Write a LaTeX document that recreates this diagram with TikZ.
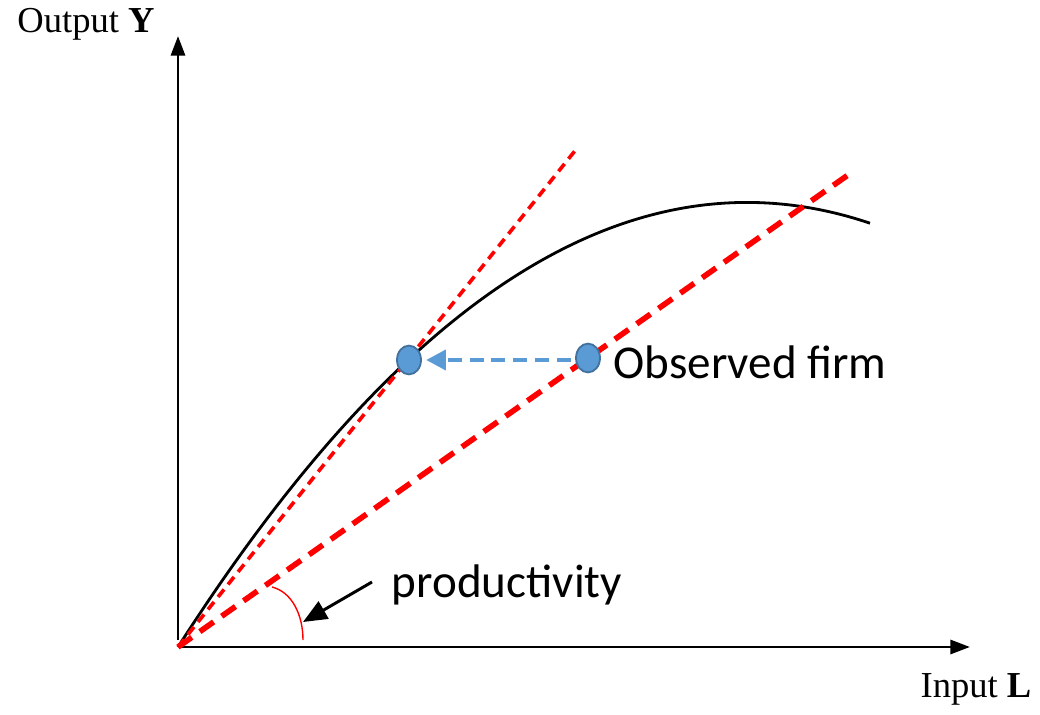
\documentclass[tikz,border=0pt]{standalone}
\usepackage{fontspec}
\setmainfont{Liberation Serif}
\newfontfamily\labelfont{Carlito}
\usetikzlibrary{arrows.meta,shapes.geometric}

\definecolor{dotblue}{HTML}{5B9BD5}
\definecolor{dotedge}{HTML}{41719C}

\tikzset{
	axis/.style={line width=2.1pt, -{Triangle[length=14pt,width=10pt]}},
	ray/.style={red, line width=2.6pt, dash pattern=on 6.8pt off 4.6pt},
	wideray/.style={red, line width=4pt, dash pattern=on 12pt off 7pt},
	firm/.style={draw=dotedge, fill=dotblue, line width=1.3pt, ellipse, minimum width=0.6cm, minimum height=0.72cm, inner sep=0pt},
}

\begin{document}
\begin{tikzpicture}[x=0.025cm, y=-0.025cm]
	\useasboundingbox (0,0) rectangle (1040,715);

	\draw (178, 647) 	coordinate 	(origin);
	\draw (178, 640) 	coordinate 	(ybase);
	\draw (178, 36) 	coordinate 	(ytop);
	\draw (182, 647) 	coordinate 	(xbase);
	\draw (970, 647) 	coordinate 	(xtop);
	\draw (578, 147) 	coordinate 	(steep);
	\draw (848, 175) 	coordinate 	(flat);
	\draw (372, 582) 	coordinate 	(arrowtail);
	\draw (303, 622) 	coordinate 	(arrowtip);

	\draw (86, 24) 		node[font=\fontsize{26}{30}\selectfont] 				(ylabel) 	{Output \textbf{Y}};
	\draw (976, 689) 	node[font=\fontsize{26}{30}\selectfont] 				(xlabel) 	{Input \textbf{L}};
	\draw (750, 362) 	node[font=\labelfont\fontsize{33.5}{40}\selectfont] 	(obslabel) 	{Observed firm};
	\draw (507, 585) 	node[font=\labelfont\fontsize{33.5}{40}\selectfont] 	(prodlabel) 	{productivity};

	\draw[axis] (ybase) -- (ytop);
	\draw[axis] (xbase) -- (xtop);

	\draw[line width=2pt] plot[domain=0:692, samples=120, smooth] ({178+\x}, {647-1.5627*\x+0.001366*\x*\x});

	\draw[ray] (origin) -- (steep);
	\draw[wideray] (origin) -- (flat);

	\draw[red, line width=1pt] (272, 587) .. controls (292, 592) and (303, 615) .. (303, 640);
	\draw[line width=2.1pt, -{Triangle[length=17pt,width=14pt]}] (arrowtail) -- (arrowtip);

	\draw (409, 360) 	node[firm] 	(efficient) 	{};
	\draw (588, 358) 	node[firm] 	(observed) 	{};

	\draw[dotblue, line width=3.2pt, dash pattern=on 10pt off 5.5pt, -{Triangle[length=14pt,width=14pt]}, shorten >=3pt, shorten <=3pt] (observed.west |- efficient) -- (efficient);
\end{tikzpicture}
\end{document}
